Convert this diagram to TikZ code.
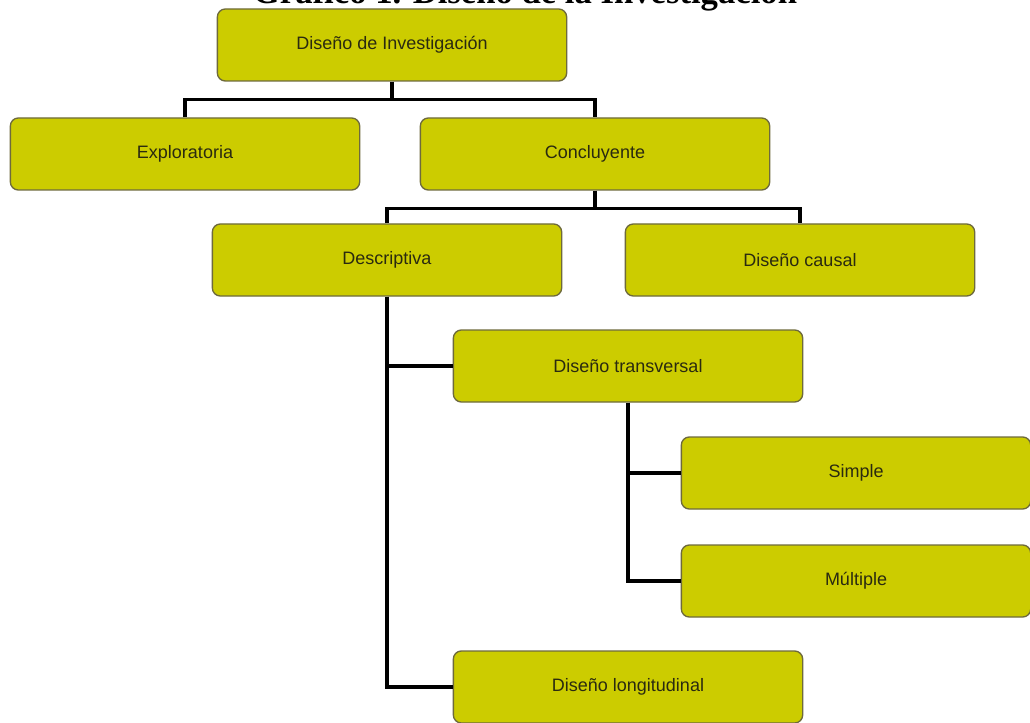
\documentclass[tikz,border=0pt]{standalone}
\usepackage{fontspec}
\setmainfont{Liberation Sans}
\newfontfamily\titlefont{Liberation Serif}
\usetikzlibrary{positioning}
\definecolor{caja}{HTML}{CCCC00}
\definecolor{borde}{HTML}{6E6A3C}
\definecolor{letra}{HTML}{2A2A10}

\begin{document}
\begin{tikzpicture}[x=0.75pt, y=0.75pt, every node/.style={font=\fontsize{13.5}{15}\selectfont,text=letra}, box/.style={draw=borde,line width=1pt,rounded corners=6pt,fill=caja,minimum width=262pt,minimum height=54pt,inner sep=0pt}, con/.style={line width=2.4pt,black}]
\useasboundingbox (0,0) rectangle (1030,722);
\clip (0,0) rectangle (1030,722);
\node[anchor=base,font=\titlefont\bfseries\fontsize{26}{28}\selectfont,text=black] (titulo) at (525,718) {Gráfico 1. Diseño de la Investigación};
\node[box] (inv) at (392,677) {Diseño de Investigación};
\node[box] (expl) at (185,568) {Exploratoria};
\node[box] (concl) at (595,568) {Concluyente};
\node[box] (desc) at (387,462) {Descriptiva};
\node[box] (causal) at (800,462) {Diseño causal};
\node[box] (trans) at (628,356) {Diseño transversal};
\node[box] (simp) at (856,249) {Simple};
\node[box] (mult) at (856,141) {Múltiple};
\node[box] (longi) at (628,35) {Diseño longitudinal};
\draw[con] (inv.south) -- ++(0,-18) coordinate (r1);
\draw[con] (expl.north) |- (r1) -| (concl.north);
\draw[con] (concl.south) -- ++(0,-18) coordinate (r2);
\draw[con] (desc.north) |- (r2) -| (causal.north);
\draw[con] (desc.south) |- (trans.west);
\draw[con] (desc.south) |- (longi.west);
\draw[con] (trans.south) |- (simp.west);
\draw[con] (trans.south) |- (mult.west);
\end{tikzpicture}
\end{document}
